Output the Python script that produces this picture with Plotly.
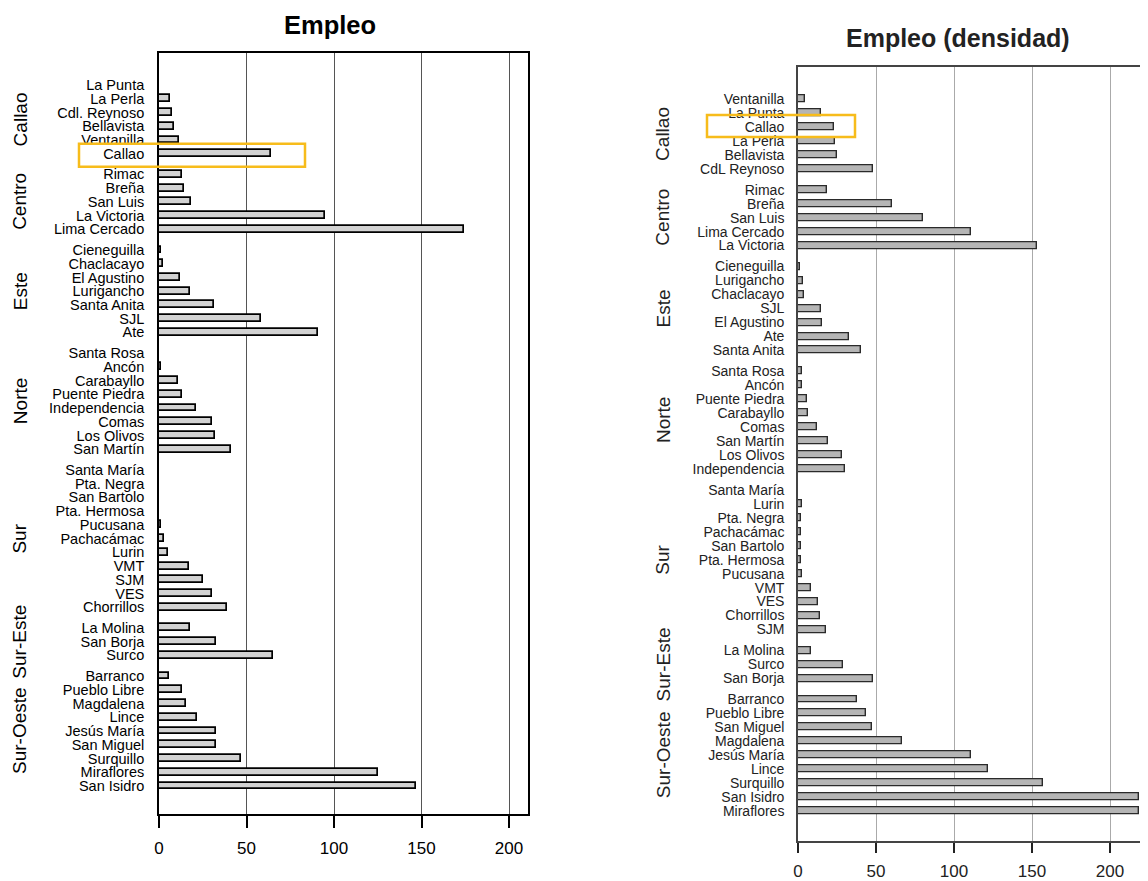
import plotly.graph_objects as go

# ---------------- data ----------------
groups = ["Callao", "Centro", "Este", "Norte", "Sur", "Sur-Este", "Sur-Oeste"]

# Left panel: Empleo
emp_names = [
    ["La Punta", "La Perla", "Cdl. Reynoso", "Bellavista", "Ventanilla", "Callao"],
    ["Rimac", "Breña", "San Luis", "La Victoria", "Lima Cercado"],
    ["Cieneguilla", "Chaclacayo", "El Agustino", "Lurigancho", "Santa Anita", "SJL", "Ate"],
    ["Santa Rosa", "Ancón", "Carabayllo", "Puente Piedra", "Independencia", "Comas", "Los Olivos", "San Martín"],
    ["Santa María", "Pta. Negra", "San Bartolo", "Pta. Hermosa", "Pucusana", "Pachacámac", "Lurin", "VMT", "SJM", "VES", "Chorrillos"],
    ["La Molina", "San Borja", "Surco"],
    ["Barranco", "Pueblo Libre", "Magdalena", "Lince", "Jesús María", "San Miguel", "Surquillo", "Miraflores", "San Isidro"],
]
emp_vals = [
    [0, 6, 7.3, 8.7, 11.4, 64.2],
    [13.2, 14.2, 18.3, 94.6, 174.2],
    [1, 2.4, 12, 17.9, 31.3, 58.3, 91],
    [0, 1, 10.8, 13.4, 21.1, 30.3, 32.1, 41],
    [0, 0, 0, 0, 1, 3, 5.3, 16.9, 25, 30.3, 39],
    [17.9, 32.3, 65],
    [5.9, 13.4, 15.6, 21.9, 32.7, 32.7, 47.1, 124.9, 146.8],
]

# Right panel: Empleo (densidad)
den_names = [
    ["Ventanilla", "La Punta", "Callao", "La Perla", "Bellavista", "CdL Reynoso"],
    ["Rimac", "Breña", "San Luis", "Lima Cercado", "La Victoria"],
    ["Cieneguilla", "Lurigancho", "Chaclacayo", "SJL", "El Agustino", "Ate", "Santa Anita"],
    ["Santa Rosa", "Ancón", "Puente Piedra", "Carabayllo", "Comas", "San Martín", "Los Olivos", "Independencia"],
    ["Santa María", "Lurin", "Pta. Negra", "Pachacámac", "San Bartolo", "Pta. Hermosa", "Pucusana", "VMT", "VES", "Chorrillos", "SJM"],
    ["La Molina", "Surco", "San Borja"],
    ["Barranco", "Pueblo Libre", "San Miguel", "Magdalena", "Jesús María", "Lince", "Surquillo", "San Isidro", "Miraflores"],
]
den_vals = [
    [4.3, 15, 23.1, 23.6, 25.3, 48],
    [18.8, 60, 80, 111, 153],
    [1.3, 3, 3.6, 15, 15.4, 32.8, 40.7],
    [2.6, 2.5, 5.8, 6.2, 12.4, 19, 28, 30.4],
    [0, 2.4, 1.9, 1.9, 2.1, 2.1, 2.6, 8.1, 12.6, 14.1, 17.8],
    [8.1, 29.1, 48.3],
    [38, 43.5, 47.2, 66.7, 111, 121.5, 157, 218.5, 218.8],
]

x_ticks = [0, 50, 100, 150, 200]
highlight = "Callao"

# ---------------- layout helpers ----------------
OFF = 8                      # default page margin of the html body
W, H = 1148 - OFF, 881 - OFF
GAP = 0.5
FONT = "Liberation Sans, Arial, Helvetica, sans-serif"


def flatten(names, vals):
    pos, labels, values, centers = [], [], [], []
    p = 0.0
    for ns, vs in zip(names, vals):
        start = p
        for n, v in zip(ns, vs):
            pos.append(p)
            labels.append(n)
            values.append(v)
            p += 1
        centers.append((start + p - 1) / 2)
        p += GAP
    return pos, labels, values, centers


L_pos, L_lab, L_val, L_cent = flatten(emp_names, emp_vals)
R_pos, R_lab, R_val, R_cent = flatten(den_names, den_vals)

# panel geometry (screen pixels of the target)
L_px = dict(x0=159, x1=527.5, y0=53, y1=814)
R_px = dict(x0=798, x1=1148, y0=67.3, y1=841)
L_xr = [0, 200 * (L_px["x1"] - L_px["x0"]) / (509 - 159)]
R_xr = [0, 200 * (R_px["x1"] - R_px["x0"]) / (1110 - 798)]
L_yr = [53.04, -2.33]
R_yr = [53.15, -2.27]


def px_x(x):
    return (x - OFF) / W


def px_y(y):
    return 1 - (y - OFF) / H


def dom_x(px):
    return [px_x(px["x0"]), min(1.0, px_x(px["x1"]))]


def dom_y(px):
    return [px_y(px["y1"]), px_y(px["y0"])]


def ypaper(val, yr, px):
    frac = (val - yr[1]) / (yr[0] - yr[1])  # 0 at top (reversed axis)
    return px_y(px["y0"] + frac * (px["y1"] - px["y0"]))


fig = go.Figure()

fig.add_trace(go.Bar(
    x=L_val, y=L_pos, orientation="h", width=0.5,
    marker=dict(color="#d2d2d2", line=dict(color="#000000", width=1.7)),
    xaxis="x", yaxis="y", showlegend=False,
))
fig.add_trace(go.Bar(
    x=R_val, y=R_pos, orientation="h", width=0.5,
    marker=dict(color="#b5b5b5", line=dict(color="#2a2a2a", width=1.4)),
    xaxis="x2", yaxis="y2", showlegend=False,
))

fig.update_layout(
    width=W, height=H, margin=dict(l=0, r=0, t=0, b=0, autoexpand=False),
    paper_bgcolor="white", plot_bgcolor="white",
    font=dict(family=FONT, color="#000"),
    bargap=0,
    xaxis=dict(domain=dom_x(L_px), range=L_xr, anchor="y", automargin=False,
               tickvals=x_ticks, ticks="outside", ticklen=12, tickwidth=1.5, tickcolor="#000",
               showgrid=True, gridcolor="#555555", gridwidth=1.1,
               showline=True, linecolor="#000", linewidth=1.7, mirror=True,
               zeroline=False, tickfont=dict(family=FONT, size=17, color="#000"), ticklabelstandoff=6),
    yaxis=dict(domain=dom_y(L_px), range=L_yr, anchor="x", automargin=False,
               tickvals=L_pos, ticktext=L_lab, ticks="",
               showgrid=False, zeroline=False,
               showline=True, linecolor="#000", linewidth=1.7, mirror=True,
               tickfont=dict(family=FONT, size=14.5, color="#000"), ticklabelstandoff=10),
    xaxis2=dict(domain=dom_x(R_px), range=R_xr, anchor="y2", automargin=False,
                tickvals=x_ticks, ticks="outside", ticklen=10, tickwidth=1.5, tickcolor="#222",
                showgrid=True, gridcolor="#aaaaaa", gridwidth=1.2,
                showline=True, linecolor="#444", linewidth=1.6, mirror=True,
                zeroline=False, tickfont=dict(family=FONT, size=17, color="#222"), ticklabelstandoff=4),
    yaxis2=dict(domain=dom_y(R_px), range=R_yr, anchor="x2", automargin=False,
                tickvals=R_pos, ticktext=R_lab, ticks="",
                showgrid=False, zeroline=False,
                showline=True, linecolor="#444", linewidth=1.6, mirror=False,
                tickfont=dict(family=FONT, size=14, color="#222"), ticklabelstandoff=9),
)

annotations = []
annotations.append(dict(text="<b>Empleo</b>", x=px_x(330), y=px_y(25), xref="paper", yref="paper",
                        showarrow=False, xanchor="center", yanchor="middle",
                        font=dict(family=FONT, size=25.5, color="#000")))
annotations.append(dict(text="<b>Empleo (densidad)</b>", x=px_x(958), y=px_y(38), xref="paper", yref="paper",
                        showarrow=False, xanchor="center", yanchor="middle",
                        font=dict(family=FONT, size=25, color="#222")))
for g, c in zip(groups, L_cent):
    annotations.append(dict(text=g, x=px_x(20), y=c, xref="paper", yref="y", textangle=-90,
                            showarrow=False, xanchor="center", yanchor="middle",
                            font=dict(family=FONT, size=19, color="#000")))
for g, c in zip(groups, R_cent):
    annotations.append(dict(text=g, x=px_x(663), y=c, xref="paper", yref="y2", textangle=-90,
                            showarrow=False, xanchor="center", yanchor="middle",
                            font=dict(family=FONT, size=19, color="#222")))
fig.update_layout(annotations=annotations)

# highlight boxes around the "Callao" rows
hl_L = L_pos[L_lab.index(highlight)]
hl_R = R_pos[R_lab.index(highlight)]
shapes = [
    dict(type="rect", xref="paper", yref="paper",
         x0=px_x(79), x1=px_x(305),
         y0=ypaper(hl_L + 0.95, L_yr, L_px), y1=ypaper(hl_L - 0.73, L_yr, L_px),
         line=dict(color="#F7BC1B", width=2.5), fillcolor="rgba(0,0,0,0)"),
    dict(type="rect", xref="paper", yref="paper",
         x0=px_x(707), x1=px_x(855),
         y0=ypaper(hl_R + 0.72, R_yr, R_px), y1=ypaper(hl_R - 0.86, R_yr, R_px),
         line=dict(color="#F7BC1B", width=2.5), fillcolor="rgba(0,0,0,0)"),
]
fig.update_layout(shapes=shapes)

fig.write_html("out.html")
